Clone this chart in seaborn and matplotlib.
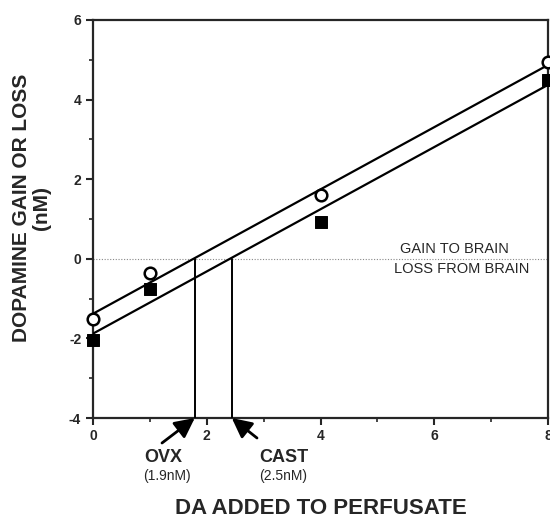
import matplotlib
matplotlib.use("Agg")
import matplotlib.pyplot as plt
import seaborn as sns
import numpy as np
import pandas as pd

# ---- data ----
da_added = [0, 1, 4, 8]
ovx_vals = [-1.52, -0.35, 1.60, 4.95]
ovx_err = [0.05, 0.05, 0.05, 0.25]
cast_vals = [-2.05, -0.75, 0.93, 4.48]
cast_err = [0.18, 0.05, 0.05, 0.40]

fit_x = [0, 8]
ovx_fit = [-1.38, 4.87]
cast_fit = [-1.88, 4.37]

ovx_cross = 1.79
cast_cross = 2.44

x_ticks = [0, 2, 4, 6, 8]
y_ticks = [-4, -2, 0, 2, 4, 6]

sns.set_style("ticks")
plt.rcParams['font.family'] = ['Liberation Sans', 'DejaVu Sans']
plt.rcParams['axes.unicode_minus'] = False

W, H = 550, 519
fig = plt.figure(figsize=(5.5, 5.19), dpi=100)
ax = fig.add_axes([93/W, 1-418/H, (548-93)/W, (418-20)/H])

df_fit = pd.DataFrame({
    "x": fit_x * 2,
    "y": ovx_fit + cast_fit,
    "group": ["OVX"] * 2 + ["CAST"] * 2,
})

sns.lineplot(data=df_fit, x="x", y="y", units="group", estimator=None,
             color="black", lw=1.6, ax=ax, legend=False, zorder=3)

# error bars
ax.errorbar(da_added, ovx_vals, yerr=ovx_err, fmt="none", ecolor="black",
            elinewidth=1.2, capsize=0, zorder=2, clip_on=False)
ax.errorbar(da_added, cast_vals, yerr=cast_err, fmt="none", ecolor="black",
            elinewidth=1.2, capsize=0, zorder=2, clip_on=False)

sns.scatterplot(x=da_added, y=ovx_vals, marker="o", s=70, facecolor="white",
                edgecolor="black", linewidth=1.8, ax=ax, zorder=5, clip_on=False)
sns.scatterplot(x=da_added, y=cast_vals, marker="s", s=75, color="black",
                edgecolor="black", ax=ax, zorder=4, clip_on=False)

# zero line
ax.axhline(0, color="#888888", lw=0.8, ls=(0, (1, 1.5)), zorder=1)
# vertical drop lines
ax.plot([ovx_cross, ovx_cross], [-4, 0], color="black", lw=1.4, zorder=3)
ax.plot([cast_cross, cast_cross], [-4, 0], color="black", lw=1.4, zorder=3)

ax.set_xlim(0, 8)
ax.set_ylim(-4, 6)
ax.set_xticks(x_ticks)
ax.set_yticks(y_ticks)
ax.set_xticks([1, 3, 5, 7], minor=True)
ax.set_yticks([-3, -1, 1, 3, 5], minor=True)
ax.tick_params(axis="both", which="major", direction="out", length=5, width=1.5,
               labelsize=10)
ax.tick_params(axis="x", which="major", pad=3)
ax.tick_params(axis="both", which="minor", direction="out", length=3, width=1.2)
for lbl in ax.get_xticklabels() + ax.get_yticklabels():
    lbl.set_fontweight("bold")
for s in ax.spines.values():
    s.set_linewidth(1.6)
    s.set_visible(True)

ax.set_xlabel("")
ax.set_ylabel("")

fig.text(22/W, 1-208/H, "DOPAMINE GAIN OR LOSS", rotation=90, ha="center",
         va="center", fontsize=15, fontweight="bold")
fig.text(42/W, 1-208/H, "(nM)", rotation=90, ha="center",
         va="center", fontsize=15, fontweight="bold")
fig.text(321/W, 1-508/H, "DA ADDED TO PERFUSATE", ha="center", va="center",
         fontsize=16, fontweight="bold")

fig.text(454/W, 1-249/H, "GAIN TO BRAIN", ha="center", va="center", fontsize=10.5)
fig.text(462/W, 1-269/H, "LOSS FROM BRAIN", ha="center", va="center", fontsize=10.5)

# annotations below axis
fig.text(163/W, 1-458/H, "OVX", ha="center", va="center", fontsize=13,
         fontweight="bold")
fig.text(167/W, 1-476/H, "(1.9nM)", ha="center", va="center", fontsize=10)
fig.text(284/W, 1-458/H, "CAST", ha="center", va="center", fontsize=13,
         fontweight="bold")
fig.text(283/W, 1-476/H, "(2.5nM)", ha="center", va="center", fontsize=10)

ax.annotate("", xy=(ovx_cross, -4), xytext=(162, H-443), textcoords="figure pixels",
            arrowprops=dict(arrowstyle="-|>,head_length=0.6,head_width=0.3",
                            color="black", lw=2.0,
                            mutation_scale=20, shrinkA=0, shrinkB=0),
            annotation_clip=False)
ax.annotate("", xy=(cast_cross, -4), xytext=(257, H-438), textcoords="figure pixels",
            arrowprops=dict(arrowstyle="-|>,head_length=0.6,head_width=0.3",
                            color="black", lw=2.0,
                            mutation_scale=20, shrinkA=0, shrinkB=0),
            annotation_clip=False)

fig.savefig("out.png", dpi=100)
